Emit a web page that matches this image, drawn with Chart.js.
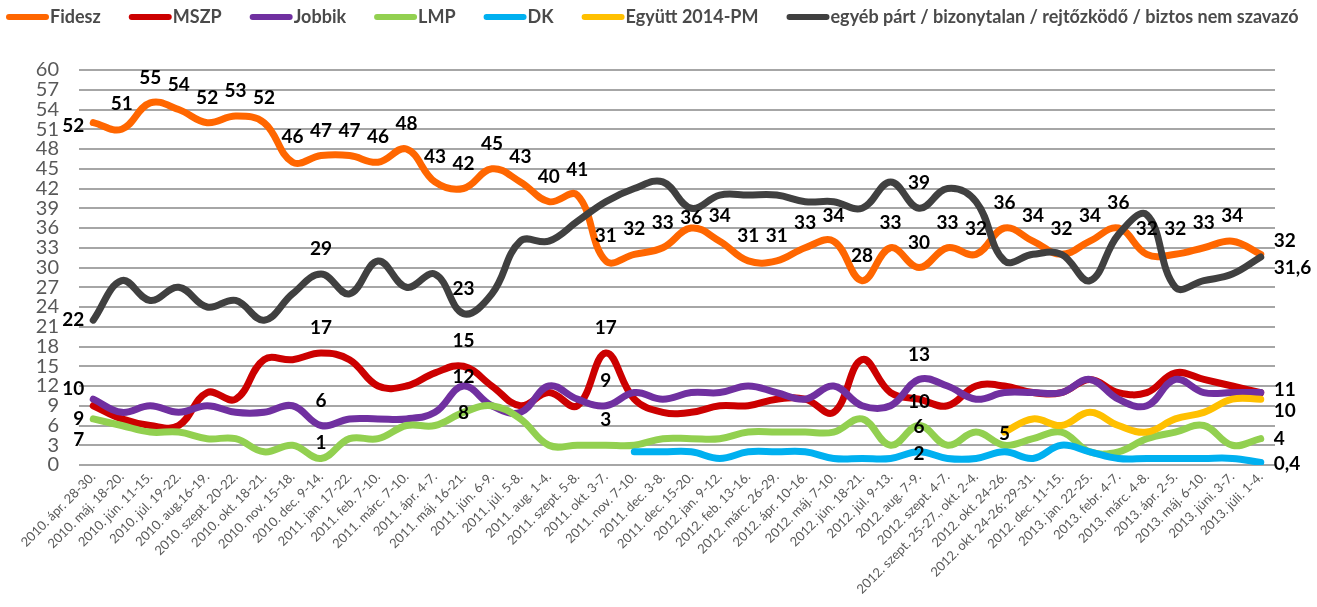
<!DOCTYPE html>
<html>
<head>
<meta charset="utf-8">
<script src="https://cdn.jsdelivr.net/npm/chart.js@4.4.1/dist/chart.umd.min.js"></script>
<style>
    html, body { margin: 0; padding: 0; background: #ffffff; }
    #wrap { width: 1317px; height: 607px; position: relative; }
</style>
</head>
<body>
<div id="wrap"><canvas id="lineChart"></canvas></div>
<script>
// Survey dates (x axis)
const categories = [
    '2010. ápr. 28-30.', '2010. máj. 18-20.', '2010. jún. 11-15.', '2010. júl. 19-22.',
    '2010. aug.16-19.', '2010. szept. 20-22.', '2010. okt. 18-21.', '2010. nov. 15-18.',
    '2010. dec. 9-14.', '2011. jan. 17-22.', '2011. feb. 7-10.', '2011. márc. 7-10.',
    '2011. ápr. 4-7.', '2011. máj. 16-21.', '2011. jún. 6-9.', '2011. júl. 5-8.',
    '2011. aug. 1-4.', '2011. szept. 5-8.', '2011. okt. 3-7.', '2011. nov. 7-10.',
    '2011. dec. 3-8.', '2011. dec. 15-20.', '2012. jan. 9-12.', '2012. feb. 13-16.',
    '2012. márc. 26-29.', '2012. ápr. 10-16.', '2012. máj. 7-10.', '2012. jún. 18-21.',
    '2012. júl. 9-13.', '2012. aug. 7-9.', '2012. szept. 4-7.', '2012. szept. 25-27., okt. 2-4.',
    '2012. okt. 24-26.', '2012. okt. 24-26; 29-31.', '2012. dec. 11-15.', '2013. jan. 22-25.',
    '2013. febr. 4-7.', '2013. márc. 4-8.', '2013. ápr. 2-5.', '2013. máj. 6-10.',
    '2013. júni. 3-7.', '2013. júli. 1-4.'
];

// Series values (%)
const fidesz = [52, 51, 55, 54, 52, 53, 52, 46, 47, 47, 46, 48, 43, 42, 45, 43, 40, 41, 31, 32,
    33, 36, 34, 31, 31, 33, 34, 28, 33, 30, 33, 32, 36, 34, 32, 34, 36, 32, 32, 33, 34, 32];
const mszp = [9, 7, 6, 6, 11, 10, 16, 16, 17, 16, 12, 12, 14, 15, 12, 9, 11, 9, 17, 10,
    8, 8, 9, 9, 10, 10, 8, 16, 11, 10, 9, 12, 12, 11, 11, 13, 11, 11, 14, 13, 12, 11];
const jobbik = [10, 8, 9, 8, 9, 8, 8, 9, 6, 7, 7, 7, 8, 12, 9, 8, 12, 10, 9, 11,
    10, 11, 11, 12, 11, 10, 12, 9, 9, 13, 12, 10, 11, 11, 11, 13, 10, 9, 13, 11, 11, 11];
const lmp = [7, 6, 5, 5, 4, 4, 2, 3, 1, 4, 4, 6, 6, 8, 9, 7, 3, 3, 3, 3,
    4, 4, 4, 5, 5, 5, 5, 7, 3, 6, 3, 5, 3, 4, 5, 2, 2, 4, 5, 6, 3, 4];
const dk = [null, null, null, null, null, null, null, null, null, null,
    null, null, null, null, null, null, null, null, null, 2,
    2, 2, 1, 2, 2, 2, 1, 1, 1, 2, 1, 1, 2, 1, 3, 2, 1, 1, 1, 1, 1, 0.4];
const egyutt = [null, null, null, null, null, null, null, null, null, null,
    null, null, null, null, null, null, null, null, null, null,
    null, null, null, null, null, null, null, null, null, null, null, null,
    5, 7, 6, 8, 6, 5, 7, 8, 10, 10];
const egyeb = [22, 28, 25, 27, 24, 25, 22, 26, 29, 26, 31, 27, 29, 23, 26, 34, 34, 37, 40, 42,
    43, 39, 41, 41, 41, 40, 40, 39, 43, 39, 42, 40, 31, 32, 32, 28, 35, 38, 27, 28, 29, 31.6];

// Y axis ticks
const yTicks = [0, 3, 6, 9, 12, 15, 18, 21, 24, 27, 30, 33, 36, 39, 42, 45, 48, 51, 54, 57, 60];

// Which points carry a value label, and where it sits
const allAbove = fidesz.map((v, i) => [i, 'above', 0]);
allAbove[0] = [0, 'left', 3];
allAbove[21] = [21, 'above', 15];
allAbove[41] = [41, 'right', -13];
const labelSpots = [
    allAbove,
    [[0, 'left', 13], [8, 'above', 0], [13, 'above', 0], [18, 'above', 0], [29, 'center', 3]],
    [[0, 'left', -10], [8, 'above', 0], [13, 'above', 16], [18, 'above', 0], [29, 'above', 0], [41, 'right', -3]],
    [[0, 'left', 21], [8, 'above', 9], [13, 'center', 1], [18, 'above', 0], [29, 'center', 1], [41, 'right', 0]],
    [[29, 'center', 2], [41, 'right', 1]],
    [[32, 'center', 2], [41, 'right', 12]],
    [[0, 'left', 0], [8, 'above', 0], [13, 'above', 0], [29, 'above', 0], [41, 'right', 11]]
];

function fmt(v) {
    return String(v).replace('.', ',');
}

const valueLabels = {
    id: 'valueLabels',
    afterDatasetsDraw(chart) {
        const ctx = chart.ctx;
        ctx.save();
        ctx.font = 'bold 19px Lato';
        ctx.fillStyle = '#000000';
        ctx.textBaseline = 'middle';
        labelSpots.forEach((spots, d) => {
            const meta = chart.getDatasetMeta(d);
            const values = chart.data.datasets[d].data;
            spots.forEach(([i, pos, dy]) => {
                const pt = meta.data[i];
                if (!pt || values[i] === null) return;
                let x = pt.x, y = pt.y + dy;
                if (pos === 'above') { ctx.textAlign = 'center'; y -= 25; }
                else if (pos === 'left') { ctx.textAlign = 'right'; x -= 9; }
                else if (pos === 'right') { ctx.textAlign = 'left'; x += 13; }
                else { ctx.textAlign = 'center'; }
                ctx.fillText(fmt(values[i]), x, y);
            });
        });
        ctx.restore();
    }
};

// Legend row across the top, line marker followed directly by the name
const topLegend = {
    id: 'topLegend',
    afterDraw(chart) {
        const ctx = chart.ctx;
        ctx.save();
        ctx.font = 'bold 18px Lato';
        ctx.textBaseline = 'middle';
        ctx.textAlign = 'left';
        let x = 6;
        const y = 17;
        chart.data.datasets.forEach(ds => {
            ctx.strokeStyle = ds.borderColor;
            ctx.lineWidth = 6;
            ctx.lineCap = 'round';
            ctx.beginPath();
            ctx.moveTo(x + 3, y);
            ctx.lineTo(x + 40, y);
            ctx.stroke();
            ctx.fillStyle = '#4a4a4a';
            ctx.fillText(ds.label, x + 44, y);
            x += 44 + ctx.measureText(ds.label).width + 28;
        });
        ctx.restore();
    }
};

function series(label, data, color, order) {
    return {
        label: label,
        data: data,
        borderColor: color,
        backgroundColor: color,
        borderWidth: 7,
        borderCapStyle: 'round',
        borderJoinStyle: 'round',
        pointRadius: 0,
        pointHoverRadius: 0,
        tension: 0.4,
        fill: false,
        order: order
    };
}

const ctx = document.getElementById('lineChart').getContext('2d');
new Chart(ctx, {
    type: 'line',
    data: {
        labels: categories,
        datasets: [
            series('Fidesz', fidesz, '#ff6600', 6),
            series('MSZP', mszp, '#cc0000', 5),
            series('Jobbik', jobbik, '#7030a0', 4),
            series('LMP', lmp, '#92d050', 3),
            series('DK', dk, '#00b0f0', 2),
            series('Együtt 2014-PM', egyutt, '#ffc000', 1),
            series('egyéb párt / bizonytalan / rejtőzködő / biztos nem szavazó', egyeb, '#404040', 0)
        ]
    },
    options: {
        responsive: true,
        maintainAspectRatio: false,
        animation: false,
        layout: {
            padding: { left: 0, right: 42, top: 70, bottom: 6 }
        },
        plugins: {
            legend: { display: false },
            tooltip: { enabled: false }
        },
        scales: {
            x: {
                offset: true,
                grid: { display: false, drawTicks: false },
                border: { display: false },
                ticks: {
                    autoSkip: false,
                    maxRotation: 45,
                    minRotation: 45,
                    padding: 4,
                    color: '#595959',
                    font: { family: 'Lato', size: 13 }
                }
            },
            y: {
                min: 0,
                max: 60,
                afterFit(scale) { scale.width = 79; },
                afterBuildTicks(scale) { scale.ticks = yTicks.map(v => ({ value: v })); },
                grid: { color: '#a6a6a6', lineWidth: 2, drawTicks: false },
                border: { display: false },
                ticks: {
                    autoSkip: false,
                    padding: 20,
                    color: '#595959',
                    font: { family: 'Lato', size: 20 }
                }
            }
        }
    },
    plugins: [valueLabels, topLegend]
});
</script>
</body>
</html>
